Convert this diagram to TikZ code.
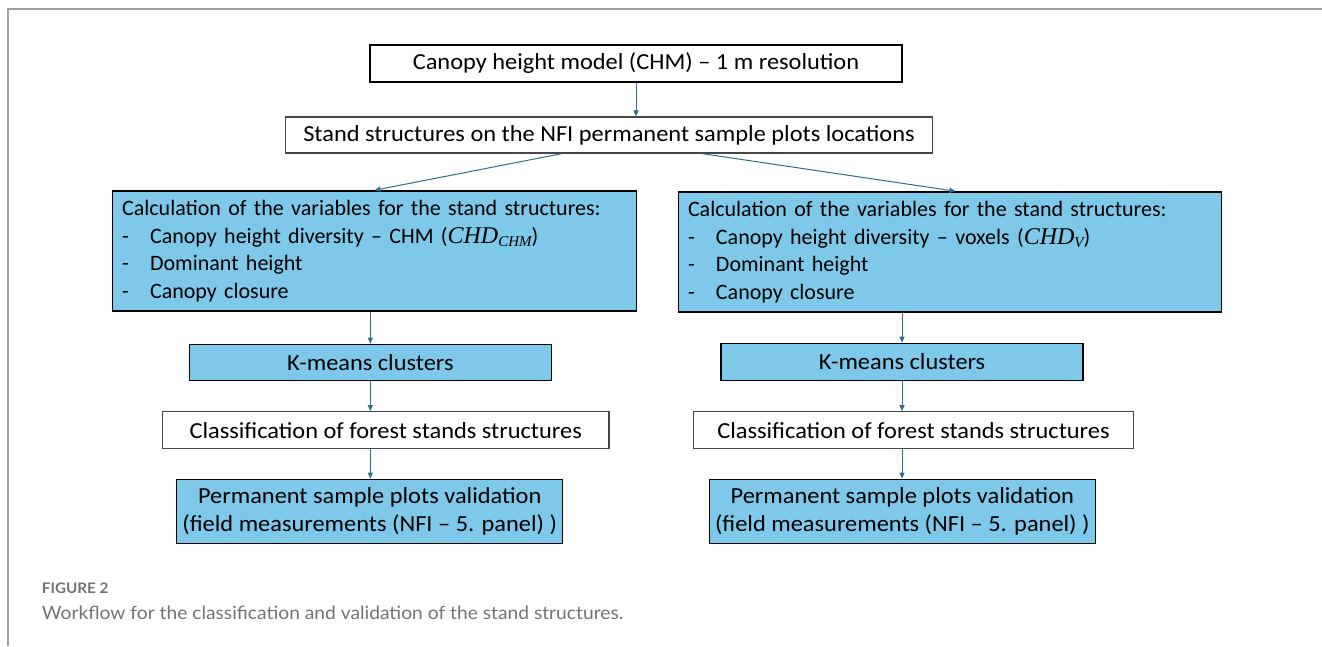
\documentclass[tikz,border=0pt]{standalone}
\usepackage{fontspec}
\setmainfont{Carlito}
\newfontfamily\aptfont[FakeStretch=1.06,Ligatures=TeX]{Carlito}
\newfontfamily\capfont[FakeStretch=1.05,Ligatures=TeX]{Lato}
\newfontfamily\mathserif{Liberation Serif}
\usetikzlibrary{arrows.meta,positioning,calc}
\definecolor{boxblue}{RGB}{126,200,234}
\definecolor{arrowc}{RGB}{46,110,140}
\definecolor{framec}{RGB}{160,160,160}
\definecolor{capc}{RGB}{115,115,115}
\definecolor{greyb}{RGB}{70,70,70}
\newcommand{\itm}[1]{\makebox[28pt][l]{-}#1}
\newcommand{\chdsym}[1]{{\mathserif\itshape\fontsize{24}{24}\selectfont CHD\raisebox{-0.35ex}{\fontsize{15}{15}\selectfont #1}}}
\begin{document}
\begin{tikzpicture}[x=1pt,y=-1pt,
  every node/.style={font=\aptfont\fontsize{23}{27.5}\selectfont},
  wbox/.style={draw=black,line width=1.6pt,fill=white,inner sep=0pt},
  gbox/.style={draw=greyb,line width=1.2pt,fill=white,inner sep=0pt},
  bbox/.style={draw=black,line width=1.6pt,fill=boxblue,inner sep=0pt},
  calc/.style={font=\fontsize{22}{27.5}\selectfont},
  arr/.style={draw=arrowc,line width=1pt,-{Triangle[length=6pt,width=5pt]}},
  captxt/.style={text=capc,anchor=west,inner sep=0pt}]
\useasboundingbox (0,0) rectangle (1322,646);
\fill[white] (0,0) rectangle (1322,646);
\draw[framec,line width=2pt] (8,646) coordinate (fb) -- (8,9) coordinate (fc) -- (1322,9) coordinate (fr);

\node[wbox,minimum width=532pt,minimum height=37pt] (chm) at (636,63.5) {Canopy height model (CHM) – 1 m resolution};
\node[gbox,minimum width=647pt,minimum height=36pt] (stand) at (609,135) {Stand structures on the NFI permanent sample plots locations};

\node[bbox,calc,minimum width=524pt,minimum height=120pt,text width=505pt,align=left] (leftb) at (374.6,251)
 {Calculation of the variables for the stand structures:\\
  \itm{Canopy height diversity – CHM (\chdsym{CHM})}\\
  \itm{Dominant height}\\
  \itm{Canopy closure}};
\node[bbox,calc,minimum width=543pt,minimum height=120pt,text width=524pt,align=left] (rightb) at (950,252)
 {Calculation of the variables for the stand structures:\\
  \itm{Canopy height diversity – voxels (\chdsym{V})}\\
  \itm{Dominant height}\\
  \itm{Canopy closure}};

\node[bbox,line width=1.3pt,minimum width=362pt,minimum height=36pt] (kml) at (370.3,362.3) {K-means clusters};
\node[gbox,minimum width=446.5pt,minimum height=37pt] (clsl) at (385.7,430.2) {Classification of forest stands structures};
\node[bbox,line width=1.3pt,minimum width=386pt,minimum height=64pt,align=center] (perml) at (369.7,511.3)
 {Permanent sample plots validation\\(field measurements (NFI – 5. panel) )};

\node[bbox,line width=1.3pt,minimum width=362pt,minimum height=37pt] (kmr) at (902,361.8) {K-means clusters};
\node[gbox,minimum width=440pt,minimum height=37pt] (clsr) at (913.5,430.2) {Classification of forest stands structures};
\node[bbox,line width=1.3pt,minimum width=386pt,minimum height=64pt,align=center] (permr) at (902.3,511.3)
 {Permanent sample plots validation\\(field measurements (NFI – 5. panel) )};

\draw[arr] (chm.south) -- (chm.south |- stand.north);
\draw[arr] ([xshift=-47pt]stand.south) -- (leftb.north);
\draw[arr] ([xshift=93pt]stand.south) -- ([xshift=5.5pt]rightb.north);
\draw[arr] (kml.north |- leftb.south) -- (kml.north);
\draw[arr] (kml.south) -- (kml.south |- clsl.north);
\draw[arr] (kml.south |- clsl.south) -- (kml.south |- perml.north);
\draw[arr] (kmr.north |- rightb.south) -- (kmr.north);
\draw[arr] (kmr.south) -- (kmr.south |- clsr.north);
\draw[arr] (kmr.south |- clsr.south) -- (kmr.south |- permr.north);

\node[captxt,font=\capfont\bfseries\fontsize{14.5}{16}\selectfont] (fig) at (41.7,588) {FIGURE 2};
\node[captxt,font=\capfont\fontsize{18.3}{20}\selectfont] (cap) at (41.7,613) {Workflow for the classification and validation of the stand structures.};
\end{tikzpicture}
\end{document}
